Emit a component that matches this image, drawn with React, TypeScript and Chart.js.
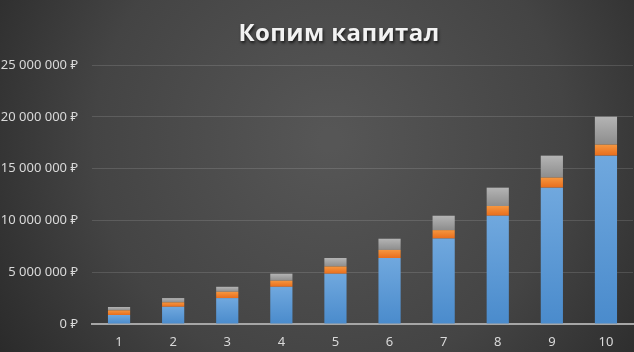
import React, { useEffect, useRef } from "react";
import { Chart, registerables } from "chart.js";

Chart.register(...registerables);

const categories = ["1", "2", "3", "4", "5", "6", "7", "8", "9", "10"];
const capitalValues = [870000, 1660000, 2500000, 3590000, 4850000, 6370000, 8250000, 10450000, 13160000, 16250000];
const contributionValues = [450000, 430000, 610000, 590000, 700000, 780000, 810000, 940000, 970000, 1060000];
const interestValues = [320000, 410000, 480000, 680000, 820000, 1080000, 1390000, 1770000, 2120000, 2700000];
const titleText = "Копим капитал";

const fmt = (v: number) =>
  String(Math.round(v)).replace(/\B(?=(\d{3})+(?!\d))/g, " ") + " ₽";

function segGradient(topColor: string, bottomColor: string, stackIndex: number) {
  return (ctx: any) => {
    const chart = ctx.chart;
    const ys = chart.scales && chart.scales.y;
    if (!ys || ctx.type !== "data") return bottomColor;
    const i = ctx.dataIndex;
    const parts = [capitalValues[i], contributionValues[i], interestValues[i]];
    let base = 0;
    for (let k = 0; k < stackIndex; k++) base += parts[k];
    const top = base + parts[stackIndex];
    const y0 = ys.getPixelForValue(top);
    const y1 = ys.getPixelForValue(base);
    if (!isFinite(y0) || !isFinite(y1) || y0 === y1) return bottomColor;
    const g = chart.ctx.createLinearGradient(0, y0, 0, y1);
    g.addColorStop(0, topColor);
    g.addColorStop(1, bottomColor);
    return g;
  };
}

const bgPlugin = {
  id: "bgPlugin",
  beforeDraw(chart: any) {
    const { ctx, width, height } = chart;
    ctx.save();
    const g = ctx.createRadialGradient(330, 140, 10, 330, 140, 420);
    g.addColorStop(0, "#565656");
    g.addColorStop(0.55, "#444444");
    g.addColorStop(1, "#262626");
    ctx.fillStyle = g;
    ctx.fillRect(0, 0, width, height);
    ctx.restore();
  },
  afterDraw(chart: any) {
    const { ctx } = chart;
    ctx.save();
    ctx.font = "bold 24px 'Open Sans', 'Noto Sans', sans-serif";
    (ctx as any).letterSpacing = "0.4px";
    ctx.textAlign = "center";
    ctx.textBaseline = "alphabetic";
    ctx.shadowColor = "rgba(0,0,0,0.7)";
    ctx.shadowBlur = 3;
    ctx.shadowOffsetX = 1;
    ctx.shadowOffsetY = 2;
    ctx.fillStyle = "#f2f2f2";
    ctx.fillText(titleText, 339, 41);
    ctx.restore();
  },
};

export default function App() {
  const ref = useRef<HTMLCanvasElement>(null);
  useEffect(() => {
    document.body.style.margin = "0";
    const canvas = ref.current!;
    const chart = new Chart(canvas, {
      type: "bar",
      data: {
        labels: categories,
        datasets: [
          {
            label: "Капитал",
            data: capitalValues,
            backgroundColor: segGradient("#70a8de", "#4a8bcc", 0),
            barPercentage: 0.41,
            categoryPercentage: 1,
          },
          {
            label: "Взносы",
            data: contributionValues,
            backgroundColor: segGradient("#f6963f", "#e86d1c", 1),
            barPercentage: 0.41,
            categoryPercentage: 1,
          },
          {
            label: "Проценты",
            data: interestValues,
            backgroundColor: segGradient("#b4b4b4", "#8d8d8d", 2),
            barPercentage: 0.41,
            categoryPercentage: 1,
          },
        ],
      },
      options: {
        responsive: false,
        animation: false,
        layout: { padding: { top: 65, right: 1, left: 0, bottom: 0 } },
        plugins: {
          legend: { display: false },
          title: { display: false },
          tooltip: { enabled: false },
        },
        scales: {
          x: {
            stacked: true,
            grid: { display: false, drawTicks: false },
            border: { display: true, color: "#a6a6a6", width: 2 },
            ticks: {
              color: "#d9d9d9",
              font: { family: "'Noto Sans', sans-serif", size: 13 },
              padding: 10,
            },
            afterFit: (s: any) => {
              s.height = 28;
            },
          },
          y: {
            stacked: true,
            min: 0,
            max: 25000000,
            grid: { color: "rgba(255,255,255,0.13)", drawTicks: false },
            border: { display: false },
            ticks: {
              stepSize: 5000000,
              color: "#d9d9d9",
              font: { family: "'Noto Sans', sans-serif", size: 13 },
              padding: 14,
              callback: (v: any) => fmt(Number(v)),
            },
            afterFit: (s: any) => {
              s.width = 92;
            },
          },
        },
      },
      plugins: [bgPlugin],
    });
    return () => chart.destroy();
  }, []);
  return <canvas ref={ref} width={634} height={352} style={{ display: "block" }} />;
}
